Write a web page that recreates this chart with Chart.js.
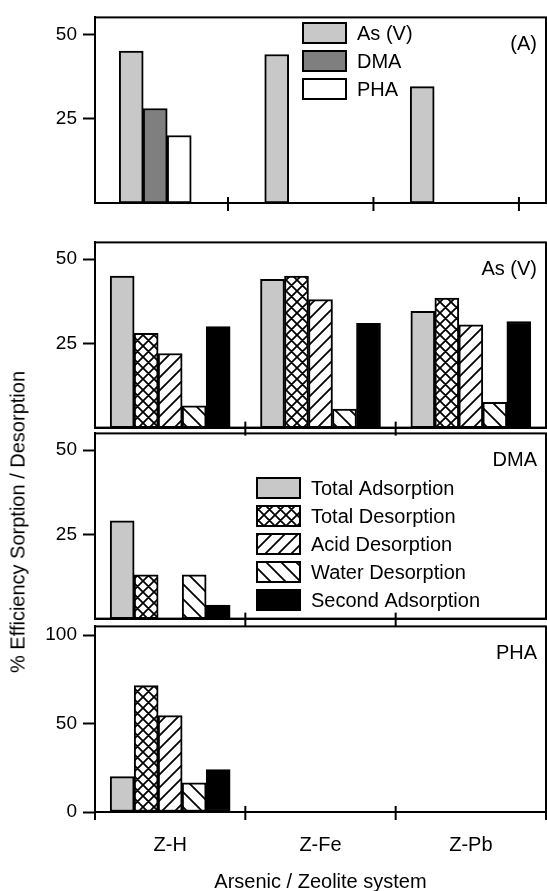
<!DOCTYPE html>
<html>
<head>
<meta charset="utf-8">
<script src="https://cdn.jsdelivr.net/npm/chart.js@4.4.1/dist/chart.umd.min.js"></script>
<style>
  html, body { margin: 0; padding: 0; background: #fff; }
  #wrap { position: relative; width: 547px; height: 891px; overflow: hidden; font-family: 'Liberation Sans', Arial, sans-serif; }
  #wrap canvas { position: absolute; left: 0; }
  #ytitle { position: absolute; left: 18px; top: 522px; transform: translate(-50%, -50%) rotate(-90deg); white-space: nowrap; font-size: 20px; color: #000; }
</style>
</head>
<body>
<div id="wrap">
  <canvas id="panelA" width="547" height="230" style="top:0px"></canvas>
  <canvas id="panelAs" width="547" height="220" style="top:225px"></canvas>
  <canvas id="panelDMA" width="547" height="220" style="top:416px"></canvas>
  <canvas id="panelPHA" width="547" height="282" style="top:609px"></canvas>
  <div id="ytitle">% Efficiency Sorption / Desorption</div>
</div>
<script>
// zeolite systems along x
const systems = ['Z-H', 'Z-Fe', 'Z-Pb'];

// (A) adsorption per arsenic species
const speciesNames = ['As (V)', 'DMA', 'PHA'];
const adsorptionAsV = [45, 44, 34.5];
const adsorptionDMA = [28, null, null];
const adsorptionPHA = [20, null, null];

// sorption / desorption steps, one row per step, one value per system
const stepNames = ['Total Adsorption', 'Total Desorption', 'Acid Desorption', 'Water Desorption', 'Second Adsorption'];
const asvSteps = [
  [45, 44, 34.5],
  [28, 45, 38.5],
  [22, 38, 30.5],
  [6.5, 5.5, 7.5],
  [30, 31, 31.5]
];
const dmaSteps = [
  [29, null, null],
  [13, null, null],
  [0, null, null],
  [13, null, null],
  [4, null, null]
];
const phaSteps = [
  [20, null, null],
  [71.5, null, null],
  [54.5, null, null],
  [16.5, null, null],
  [24, null, null]
];

// y tick labels per panel
const yTicksA = [25, 50];
const yTicksAs = [25, 50];
const yTicksDMA = [25, 50];
const yTicksPHA = [0, 50, 100];

const FONT = "'Liberation Sans', Arial, sans-serif";

function makePattern(kind, size) {
  const c = document.createElement('canvas');
  c.width = size; c.height = size;
  const g = c.getContext('2d');
  g.fillStyle = '#fff';
  g.fillRect(0, 0, size, size);
  g.strokeStyle = '#000';
  g.lineWidth = 1.8;
  g.beginPath();
  if (kind !== 'water') { // "/"
    g.moveTo(-1, size + 1); g.lineTo(size + 1, -1);
    g.moveTo(-2, 2); g.lineTo(2, -2);
    g.moveTo(size - 2, size + 2); g.lineTo(size + 2, size - 2);
  }
  if (kind !== 'acid') { // "\"
    g.moveTo(-1, -1); g.lineTo(size + 1, size + 1);
    g.moveTo(size - 2, -2); g.lineTo(size + 2, 2);
    g.moveTo(-2, size - 2); g.lineTo(2, size + 2);
  }
  g.stroke();
  return g.createPattern(c, 'repeat');
}

const speciesFills = ['#c8c8c8', '#7f7f7f', '#ffffff'];
const stepFills = ['#c8c8c8', makePattern('cross', 11), makePattern('acid', 13), makePattern('water', 15), '#000000'];

function toPoints(values) {
  return values.map((v, i) => (v === null ? null : { x: i, y: v })).filter(p => p !== null);
}

// frame, crossing x ticks, panel label and legend
const panelDecor = {
  id: 'panelDecor',
  afterDraw(chart, args, opts) {
    const { ctx, chartArea: a } = chart;
    const x = chart.scales.x;
    ctx.save();
    ctx.strokeStyle = '#000';
    ctx.lineWidth = 2;
    ctx.strokeRect(a.left, a.top, a.right - a.left, a.bottom - a.top);
    opts.boundaries.forEach(b => {
      const px = x.getPixelForValue(b);
      ctx.beginPath();
      ctx.moveTo(px, a.bottom - 6);
      ctx.lineTo(px, a.bottom + 8);
      ctx.stroke();
    });
    ctx.fillStyle = '#000';
    ctx.font = '20px ' + FONT;
    ctx.textAlign = 'right';
    ctx.textBaseline = 'middle';
    ctx.fillText(opts.label, a.right - 9, a.top + 27);
    if (opts.legend) {
      const L = opts.legend;
      ctx.textAlign = 'left';
      chart.data.datasets.forEach((ds, i) => {
        const y = L.top + i * 28;
        ctx.fillStyle = ds.backgroundColor;
        ctx.fillRect(L.x, y, 43, 20);
        ctx.lineWidth = 2;
        ctx.strokeRect(L.x, y, 43, 20);
        ctx.fillStyle = '#000';
        ctx.fillText(ds.label, L.x + 54, y + 11);
      });
    }
    ctx.restore();
  }
};

function buildPanel(canvasId, p) {
  return new Chart(document.getElementById(canvasId), {
    type: 'bar',
    data: { datasets: p.datasets },
    options: {
      responsive: false,
      animation: false,
      devicePixelRatio: 1,
      layout: { padding: { top: 12, right: 1, left: 0, bottom: 0 } },
      datasets: {
        bar: { barThickness: 24, borderColor: '#000', borderWidth: 2, borderSkipped: false }
      },
      plugins: {
        legend: { display: false },
        tooltip: { enabled: false },
        panelDecor: { boundaries: p.boundaries, label: p.label, legend: p.legend }
      },
      scales: {
        x: {
          type: 'linear',
          min: p.xMin,
          max: p.xMax,
          offset: false,
          afterFit: s => { s.height = p.xHeight; },
          afterBuildTicks: s => { s.ticks = p.showLabels ? systems.map((n, i) => ({ value: i })) : []; },
          border: { display: true, color: '#000', width: 2 },
          grid: { display: false, drawTicks: false },
          ticks: {
            display: !!p.showLabels,
            color: '#000',
            padding: 21,
            maxRotation: 0,
            font: { family: FONT, size: 20 },
            callback: v => systems[v]
          },
          title: {
            display: !!p.showLabels,
            text: 'Arsenic / Zeolite system',
            color: '#000',
            padding: 0,
            font: { family: FONT, size: 20, lineHeight: 0.9 }
          }
        },
        y: {
          min: 0,
          max: p.yMax,
          afterFit: s => { s.width = 95; },
          afterBuildTicks: s => { s.ticks = p.yTicks.map(v => ({ value: v })); },
          border: { display: true, color: '#000', width: 2 },
          grid: { drawOnChartArea: false, drawTicks: true, tickLength: 12, tickWidth: 2, tickColor: '#000' },
          ticks: { color: '#000', padding: 6, font: { family: FONT, size: 19 } }
        }
      }
    },
    plugins: [panelDecor]
  });
}

function stepDatasets(rows) {
  return rows.map((vals, i) => ({ label: stepNames[i], data: toPoints(vals), backgroundColor: stepFills[i] }));
}

buildPanel('panelA', {
  datasets: [adsorptionAsV, adsorptionDMA, adsorptionPHA].map((vals, i) => ({
    label: speciesNames[i], data: toPoints(vals), backgroundColor: speciesFills[i]
  })),
  xMin: -0.414, xMax: 2.686, xHeight: 27, yMax: 55, yTicks: yTicksA,
  boundaries: [0.5, 1.5, 2.5], label: '(A)',
  legend: { x: 303, top: 23 }
});

buildPanel('panelAs', {
  datasets: stepDatasets(asvSteps),
  xMin: -0.5, xMax: 2.5, xHeight: 17, yMax: 55, yTicks: yTicksAs,
  boundaries: [0.5, 1.5], label: 'As (V)'
});

buildPanel('panelDMA', {
  datasets: stepDatasets(dmaSteps),
  xMin: -0.5, xMax: 2.5, xHeight: 15, yMax: 55, yTicks: yTicksDMA,
  boundaries: [0.5, 1.5], label: 'DMA',
  legend: { x: 257, top: 62 }
});

buildPanel('panelPHA', {
  datasets: stepDatasets(phaSteps),
  xMin: -0.5, xMax: 2.5, xHeight: 79, yMax: 105, yTicks: yTicksPHA,
  boundaries: [-0.5, 0.5, 1.5, 2.5], label: 'PHA', showLabels: true
});
</script>
</body>
</html>
